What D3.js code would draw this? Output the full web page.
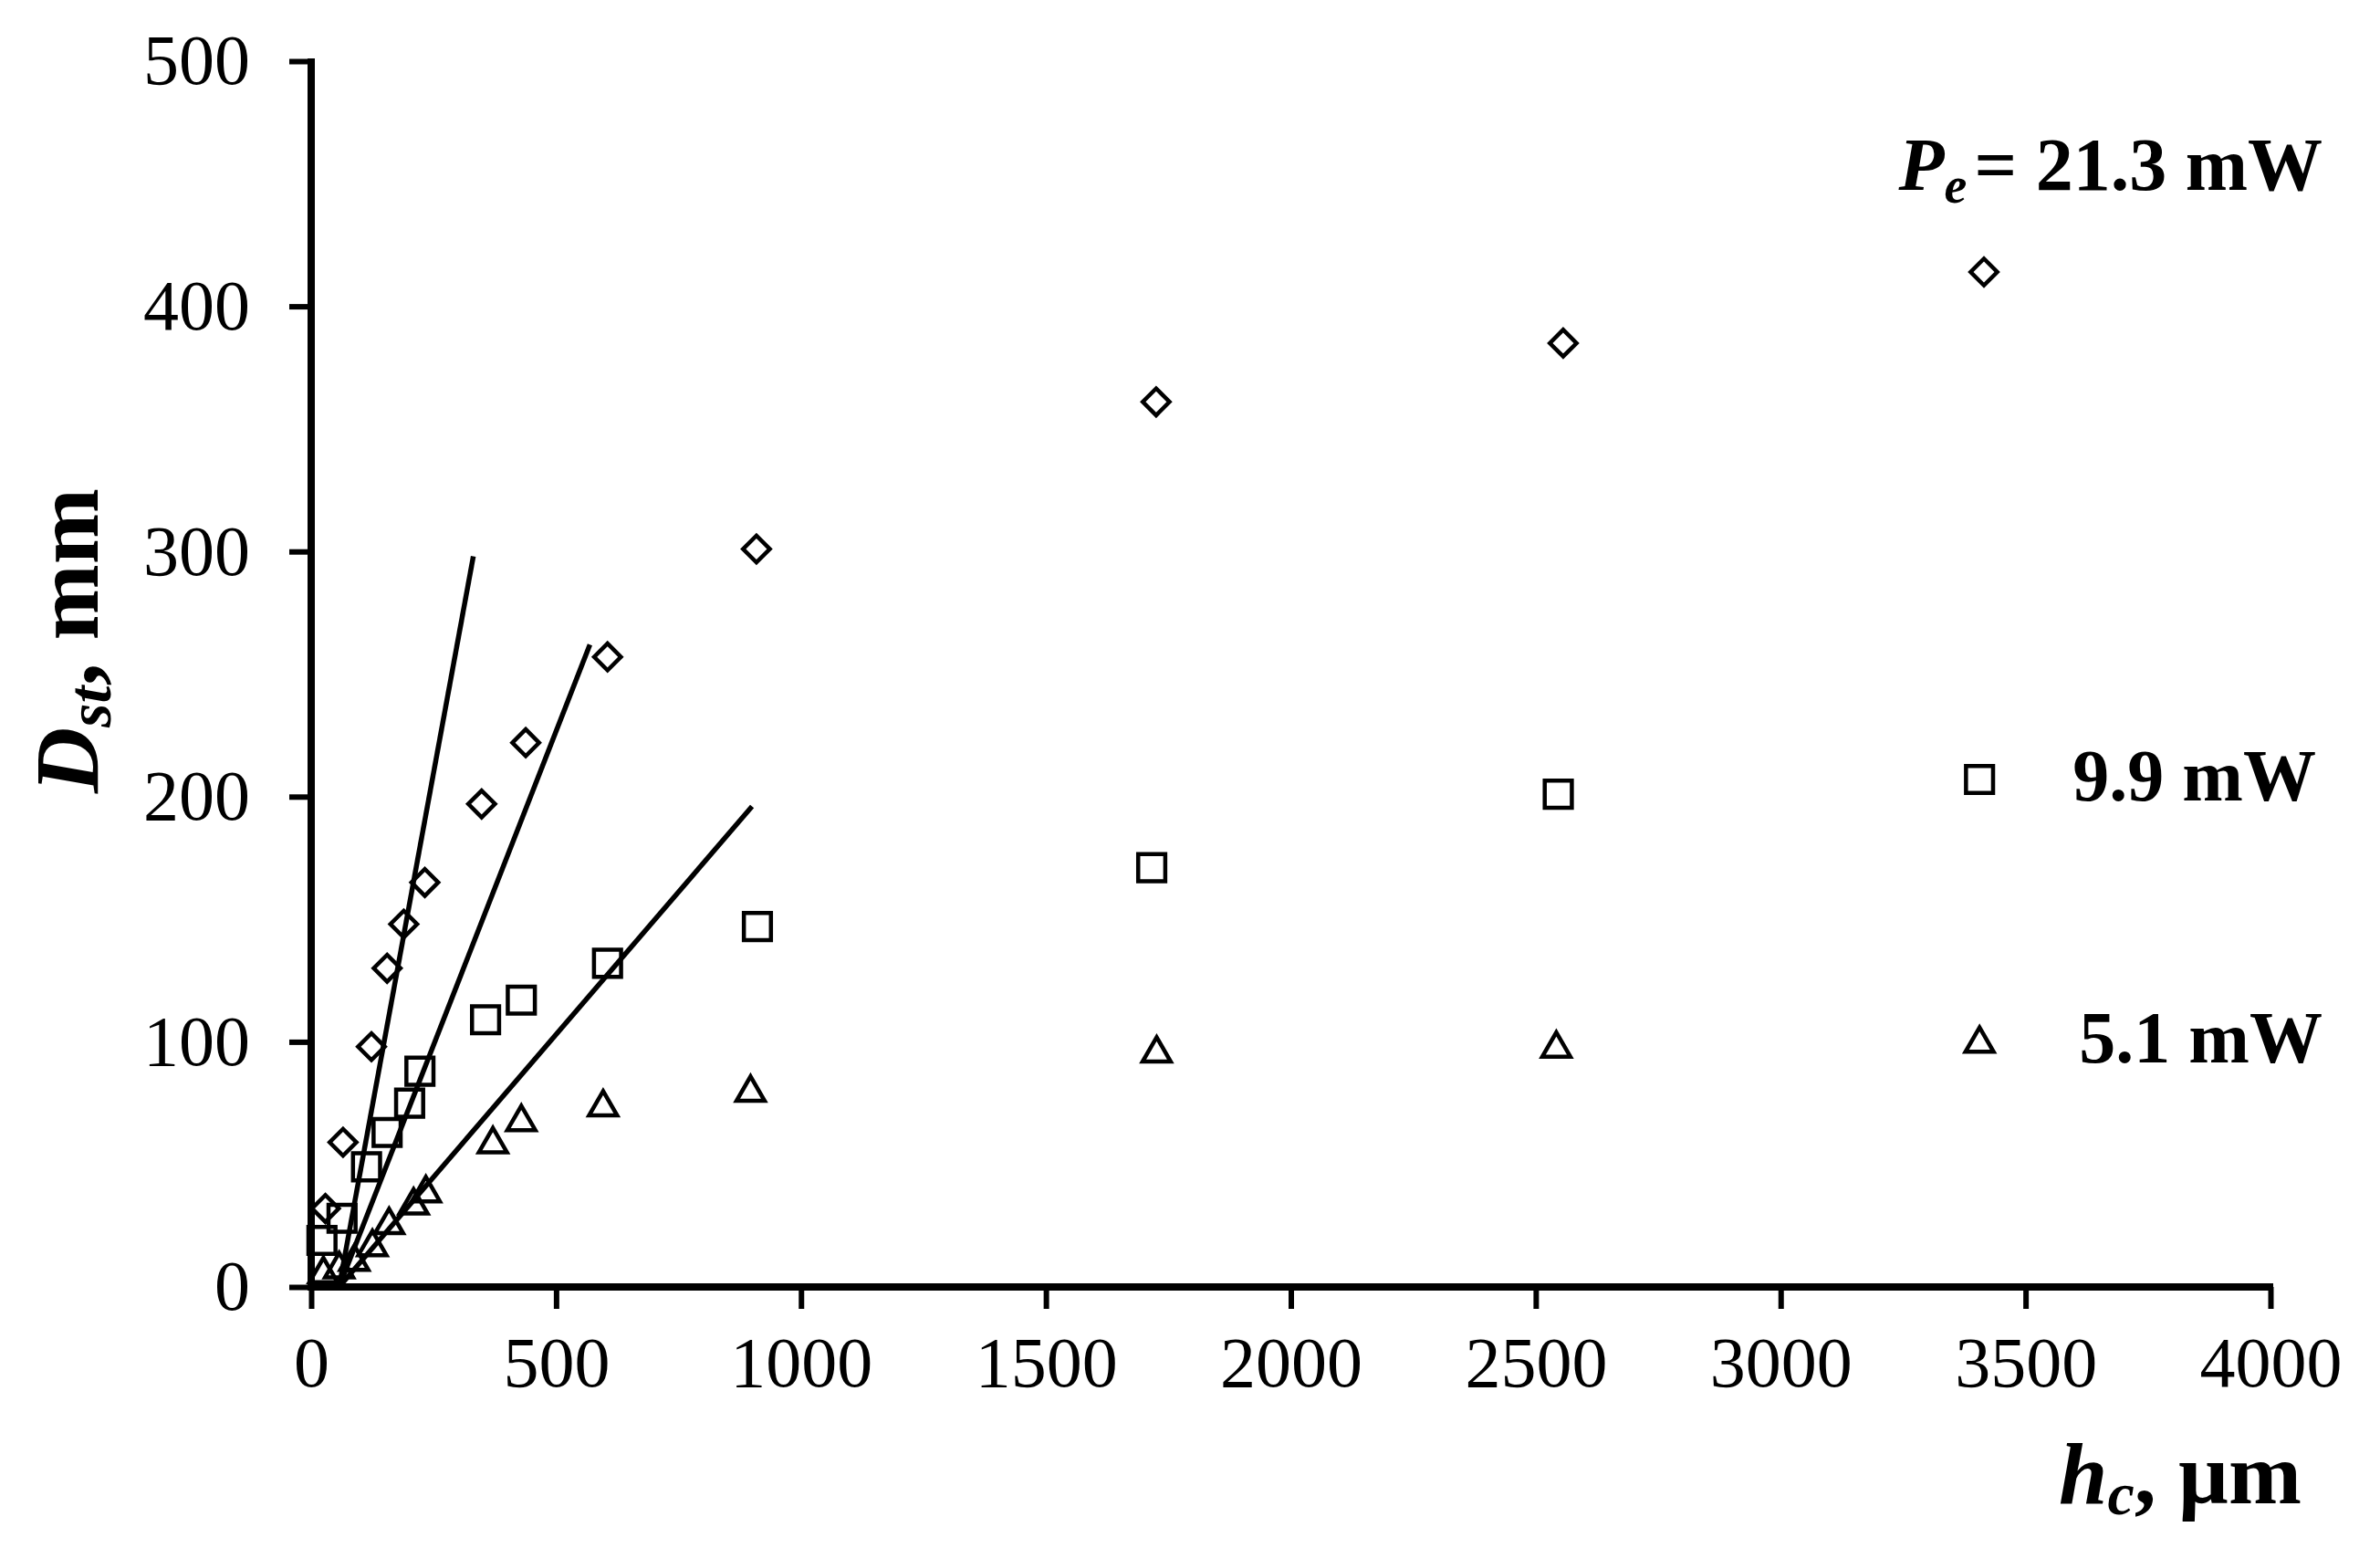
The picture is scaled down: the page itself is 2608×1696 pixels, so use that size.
<!DOCTYPE html>
<meta charset="utf-8">
<style>
body { margin: 0; background: #fff; }
.tick text { font-family: "Liberation Serif", serif; font-size: 78px; fill: #000; }
.tick line { stroke: #000; stroke-width: 6px; }
.domain { display: none; }
.ttl { font-family: "Liberation Serif", serif; font-weight: bold; fill: #000; }
</style>
<html>
<body>
<div id="chart"></div>
<script src="https://d3js.org/d3.v7.min.js"></script>
<script>

// D_st vs h_c for three pump powers
var hc213 = [29, 65, 123, 155, 189, 232, 348, 438, 605, 909, 1725, 2556, 3415];
var dst213 = [32, 59, 98, 130, 148, 165, 197, 222, 257, 301, 361, 385, 414];

var hc99 = [22, 63, 113, 155, 201, 222, 356, 429, 605, 911, 1716, 2546, 3406];
var dst99 = [19, 28, 49, 63, 75, 88, 109, 117, 132, 147, 171, 201, 207];

var hc51 = [25, 57, 88, 125, 159, 209, 234, 371, 429, 596, 897, 1726, 2542, 3406];
var dst51 = [6, 8, 11, 17, 26, 34, 39, 59, 68, 74, 80, 96, 98, 100];

// linear fits of the initial slopes
var fitX = [[57, 331], [57, 569], [57, 900]];
var fitY = [[0, 298], [0, 262], [0, 196]];

var xTicks = [0, 500, 1000, 1500, 2000, 2500, 3000, 3500, 4000];
var yTicks = [0, 100, 200, 300, 400, 500];

var margin = {top: 67, right: 120, bottom: 286, left: 341},
    width = 2608 - margin.left - margin.right,
    height = 1696 - margin.top - margin.bottom;

var svg = d3.select("#chart")
  .append("svg")
    .attr("width", 2608)
    .attr("height", 1696)
  .append("g")
    .attr("transform", "translate(" + margin.left + "," + margin.top + ")");

var x = d3.scaleLinear().domain([0, 4000]).range([0, width]);
var y = d3.scaleLinear().domain([0, 500]).range([height, 0]);

// axes
var xAxis = svg.append("g")
    .attr("transform", "translate(0," + height + ")")
    .call(d3.axisBottom(x).tickValues(xTicks).tickSize(24).tickPadding(30).tickFormat(d3.format("d")));
xAxis.selectAll("text").attr("dy", "0.71em");

svg.append("g")
    .call(d3.axisLeft(y).tickValues(yTicks).tickSize(24).tickPadding(43).tickFormat(d3.format("d")));

// axis lines (thick)
svg.append("line")
    .attr("x1", x(0)).attr("x2", x(0))
    .attr("y1", y(500) - 3).attr("y2", y(0) + 4)
    .attr("stroke", "#000").attr("stroke-width", 8);
svg.append("line")
    .attr("x1", x(0) - 4).attr("x2", x(4000) + 3)
    .attr("y1", y(0)).attr("y2", y(0))
    .attr("stroke", "#000").attr("stroke-width", 8);

// fit lines
fitX.forEach(function(xs, i) {
  svg.append("line")
    .attr("x1", x(xs[0])).attr("y1", y(fitY[i][0]))
    .attr("x2", x(xs[1])).attr("y2", y(fitY[i][1]))
    .attr("stroke", "#000")
    .attr("stroke-width", 5.5);
});

// markers
var diamond = d3.symbol().type(d3.symbolSquare).size(430)();
var square = d3.symbol().type(d3.symbolSquare).size(880)();
var triangle = d3.symbol().type(d3.symbolTriangle).size(410)();

function pts(xs, ys) { return xs.map(function(v, i) { return {x: v, y: ys[i]}; }); }

svg.selectAll(".dia")
  .data(pts(hc213, dst213))
  .enter().append("path")
    .attr("d", diamond)
    .attr("transform", function(d) { return "translate(" + x(d.x) + "," + y(d.y) + ") rotate(45)"; })
    .attr("fill", "none").attr("stroke", "#000").attr("stroke-width", 4.5);

svg.selectAll(".sq")
  .data(pts(hc99, dst99))
  .enter().append("path")
    .attr("d", square)
    .attr("transform", function(d) { return "translate(" + x(d.x) + "," + y(d.y) + ")"; })
    .attr("fill", "none").attr("stroke", "#000").attr("stroke-width", 4.5);

svg.selectAll(".tri")
  .data(pts(hc51, dst51))
  .enter().append("path")
    .attr("d", triangle)
    .attr("transform", function(d) { return "translate(" + x(d.x) + "," + (y(d.y) + 2) + ")"; })
    .attr("fill", "none").attr("stroke", "#000").attr("stroke-width", 4.5);

// series labels
var t1 = svg.append("text").attr("class", "ttl")
    .attr("x", 2545 - margin.left).attr("y", 208 - margin.top)
    .attr("text-anchor", "end").style("font-size", "82px");
t1.append("tspan").style("font-style", "italic").text("P");
t1.append("tspan").style("font-style", "italic").style("font-size", "56px").attr("dy", 14).text("e");
t1.append("tspan").attr("dy", -14).attr("dx", 8).text("= 21.3 mW");

svg.append("text").attr("class", "ttl")
    .attr("x", 2538 - margin.left).attr("y", 877 - margin.top)
    .attr("text-anchor", "end").style("font-size", "80px")
    .text("9.9 mW");

svg.append("text").attr("class", "ttl")
    .attr("x", 2545 - margin.left).attr("y", 1164 - margin.top)
    .attr("text-anchor", "end").style("font-size", "80px")
    .text("5.1 mW");

// axis titles
var xt = svg.append("text").attr("class", "ttl")
    .attr("x", 2522 - margin.left).attr("y", 1647 - margin.top)
    .attr("text-anchor", "end").style("font-size", "96px");
xt.append("tspan").style("font-style", "italic").text("h");
xt.append("tspan").style("font-style", "italic").style("font-size", "66px").attr("dy", 12).text("c");
xt.append("tspan").attr("dy", -12).text(", \u00b5m");

var yt = svg.append("text").attr("class", "ttl")
    .attr("transform", "translate(" + (107 - margin.left) + "," + (702 - margin.top) + ") rotate(-90)")
    .attr("text-anchor", "middle").style("font-size", "100px");
yt.append("tspan").style("font-style", "italic").text("D");
yt.append("tspan").style("font-style", "italic").style("font-size", "68px").attr("dy", 14).text("st");
yt.append("tspan").attr("dy", -14).text(", mm");

</script>
</body>
</html>
